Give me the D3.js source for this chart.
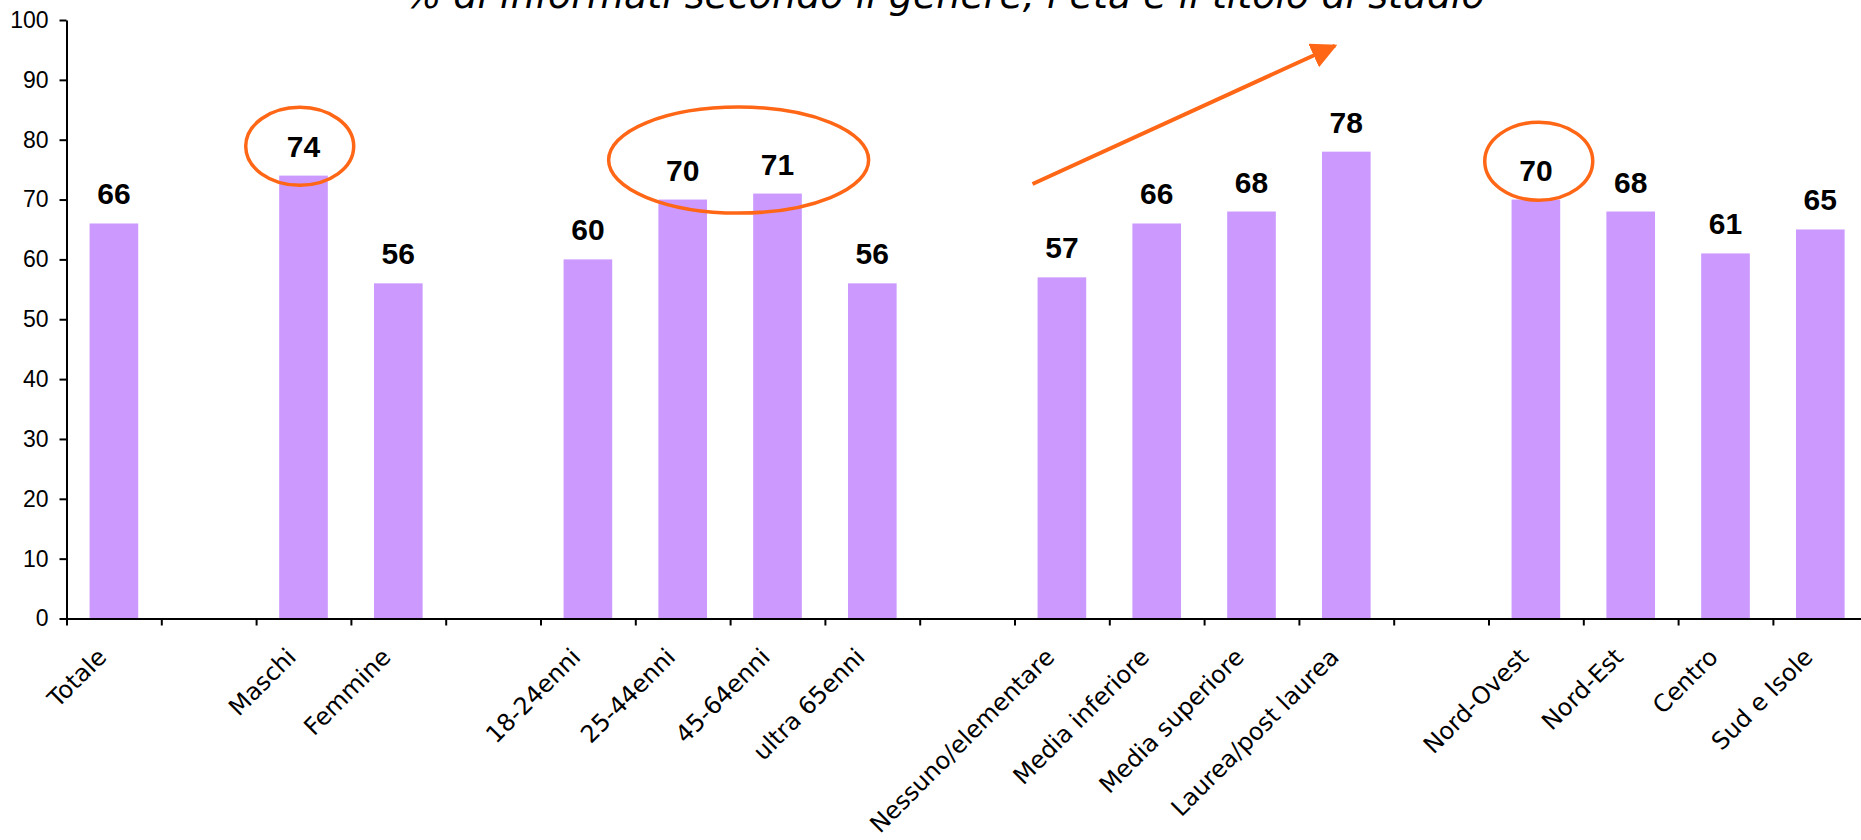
<!DOCTYPE html>
<html lang="it">
<head>
<meta charset="utf-8">
<title>% di informati secondo il genere, l’età e il titolo di studio</title>
<script src="https://cdn.jsdelivr.net/npm/d3@7"></script>
<style>
  html, body { margin: 0; padding: 0; background: #ffffff; }
  svg { display: block; overflow: hidden; }
</style>
</head>
<body>
<svg id="chart" width="1861" height="840"></svg>
<script>
// Categories (empty strings are spacer slots between groups)
const categories = [
  "Totale", "",
  "Maschi", "Femmine", "",
  "18-24enni", "25-44enni", "45-64enni", "ultra 65enni", "",
  "Nessuno/elementare", "Media inferiore", "Media superiore", "Laurea/post laurea", "",
  "Nord-Ovest", "Nord-Est", "Centro", "Sud e Isole"
];
// Percentage of informed people per category
const values = [
  66, null,
  74, 56, null,
  60, 70, 71, 56, null,
  57, 66, 68, 78, null,
  70, 68, 61, 65
];
const yTicks = [0, 10, 20, 30, 40, 50, 60, 70, 80, 90, 100];
const title = "% di informati secondo il genere, l’età e il titolo di studio";

// Highlight ellipses: centre given as slot position and value units, radii in px
const highlights = [
  { slot: 2.46, level: 78.9, rx: 54, ry: 39 },
  { slot: 7.09, level: 76.6, rx: 130, ry: 53 },
  { slot: 15.53, level: 76.4, rx: 54, ry: 39 }
];
// Trend arrow over the education group (slot position, value units)
const trendArrow = { from: [10.19, 72.6], to: [13.38, 95.7] };

const svg = d3.select("#chart");
const plotLeft = 66.5, step = 94.8, plotBottom = 618.5, plotTop = 20;
const plotRight = plotLeft + step * categories.length;
const orange = "#ff6616";

const x = d3.scaleBand()
  .domain(d3.range(categories.length))
  .range([plotLeft, plotRight])
  .paddingInner(0.487)
  .paddingOuter(0.2435);

const slot = d3.scaleLinear().domain([0, categories.length]).range([plotLeft, plotRight]);

const y = d3.scaleLinear().domain([0, 100]).range([plotBottom, plotTop]);

// Title (partly above the visible area)
svg.append("text")
  .attr("x", 945)
  .attr("y", 7.5)
  .attr("text-anchor", "middle")
  .style("font-family", "'DejaVu Sans', Verdana, sans-serif")
  .style("font-style", "italic")
  .style("font-size", "38px")
  .attr("fill", "#000")
  .text(title);

// Bars
const barData = values.map((v, i) => ({ i, v })).filter(d => d.v !== null);
svg.append("g")
  .selectAll("rect")
  .data(barData)
  .join("rect")
  .attr("x", d => x(d.i))
  .attr("width", x.bandwidth())
  .attr("y", d => y(d.v))
  .attr("height", d => y(0) - y(d.v))
  .attr("fill", "#cc99ff");

// Value labels
svg.append("g")
  .selectAll("text")
  .data(barData)
  .join("text")
  .attr("x", d => x(d.i) + x.bandwidth() / 2)
  .attr("y", d => y(d.v) - 19)
  .attr("text-anchor", "middle")
  .style("font-family", "'Liberation Sans', Arial, sans-serif")
  .style("font-weight", "bold")
  .style("font-size", "30px")
  .attr("fill", "#000")
  .text(d => d.v);

// Y axis
const yAxis = svg.append("g")
  .attr("transform", `translate(${plotLeft},0)`)
  .call(d3.axisLeft(y).tickValues(yTicks).tickSize(7).tickSizeOuter(0).tickPadding(11));
yAxis.select(".domain").attr("stroke", "#000").attr("stroke-width", 2);
yAxis.selectAll(".tick line").attr("stroke", "#000").attr("stroke-width", 2);
yAxis.selectAll(".tick text")
  .style("font-family", "'Liberation Sans', Arial, sans-serif")
  .style("font-size", "23px")
  .attr("fill", "#000");

// X axis with ticks on slot boundaries
const xAxis = svg.append("g")
  .attr("transform", `translate(0,${plotBottom})`)
  .call(d3.axisBottom(slot).tickValues(d3.range(categories.length + 1)).tickSize(7).tickSizeOuter(0).tickFormat(""));
xAxis.select(".domain").attr("stroke", "#000").attr("stroke-width", 2);
xAxis.selectAll(".tick line").attr("stroke", "#000").attr("stroke-width", 2);

// Rotated category labels
svg.append("g")
  .selectAll("text")
  .data(categories.map((c, i) => ({ c, i })).filter(d => d.c !== ""))
  .join("text")
  .attr("transform", d => `translate(${x(d.i) + x.bandwidth() / 2 - 6},${plotBottom + 40}) rotate(-45)`)
  .attr("text-anchor", "end")
  .style("font-family", "'DejaVu Sans', Verdana, sans-serif")
  .style("font-size", "24px")
  .attr("fill", "#000")
  .text(d => d.c);

// Highlight ellipses
svg.append("g")
  .selectAll("ellipse")
  .data(highlights)
  .join("ellipse")
  .attr("cx", d => slot(d.slot))
  .attr("cy", d => y(d.level))
  .attr("rx", d => d.rx)
  .attr("ry", d => d.ry)
  .attr("fill", "none")
  .attr("stroke", orange)
  .attr("stroke-width", 3.5);

// Trend arrow
const defs = svg.append("defs");
defs.append("marker")
  .attr("id", "arrowhead")
  .attr("viewBox", "0 0 10 10")
  .attr("refX", 9)
  .attr("refY", 5)
  .attr("markerUnits", "userSpaceOnUse")
  .attr("markerWidth", 26)
  .attr("markerHeight", 26)
  .attr("orient", "auto")
  .append("path")
  .attr("d", "M0,0 L10,5 L0,10 Z")
  .attr("fill", orange);

svg.append("line")
  .attr("x1", slot(trendArrow.from[0]))
  .attr("y1", y(trendArrow.from[1]))
  .attr("x2", slot(trendArrow.to[0]))
  .attr("y2", y(trendArrow.to[1]))
  .attr("stroke", orange)
  .attr("stroke-width", 4)
  .attr("marker-end", "url(#arrowhead)");
</script>
</body>
</html>
